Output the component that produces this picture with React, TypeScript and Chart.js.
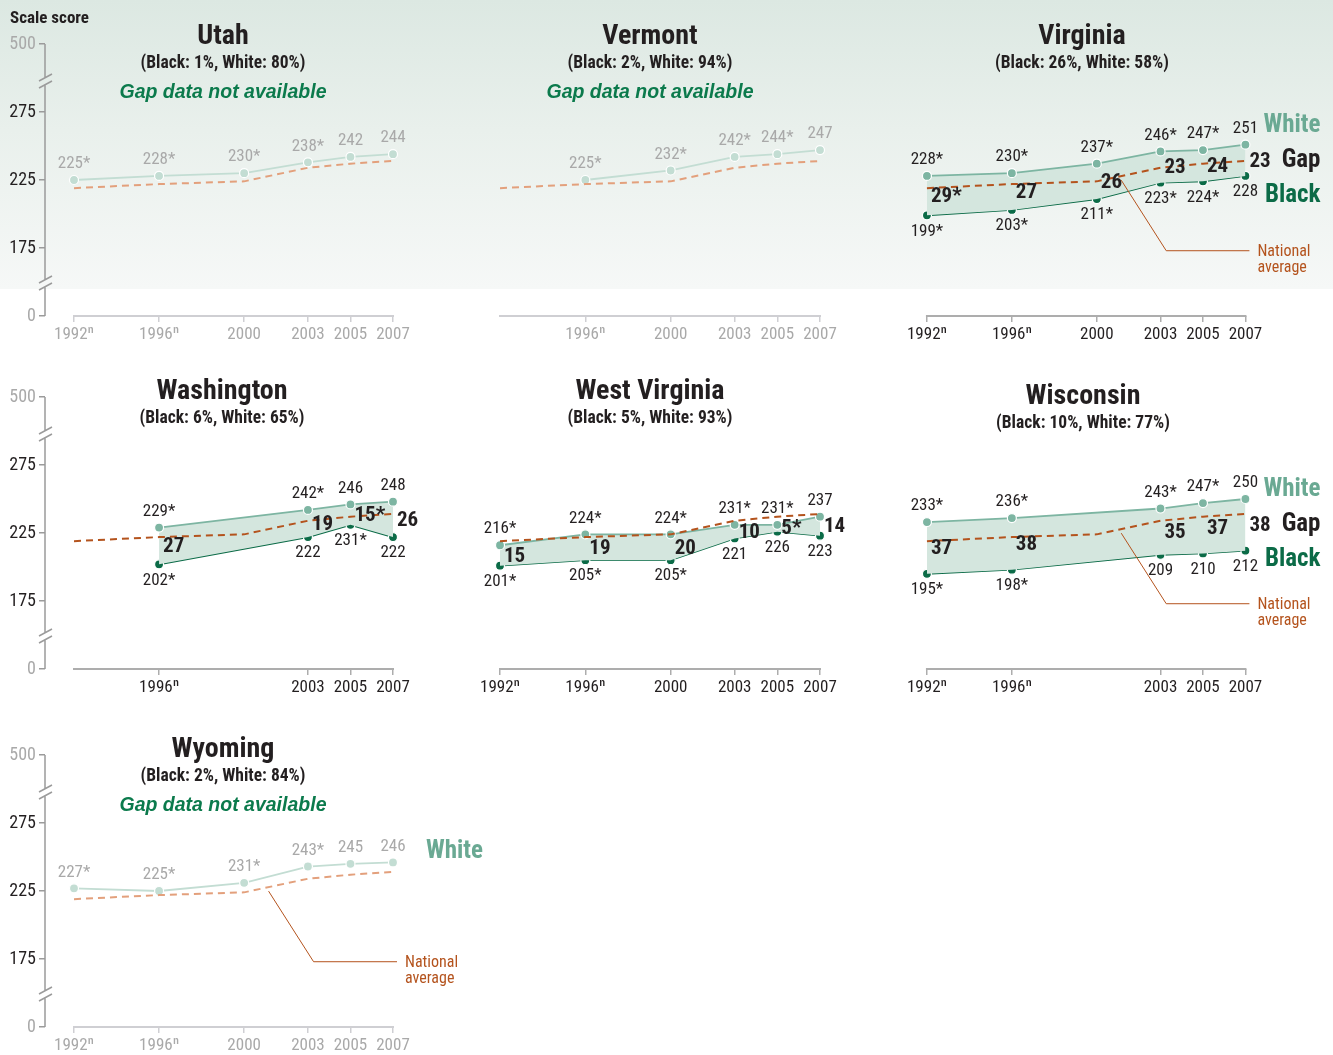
import React, { useEffect, useRef } from "react";
import { Chart, registerables } from "chart.js";

Chart.register(...registerables);

// ---------------- data ----------------
const ALL_YEARS = [1992, 1996, 2000, 2003, 2005, 2007];
const NATIONAL_AVG = [219, 222, 224, 234, 237, 239];

const UTAH_YEARS = [1992, 1996, 2000, 2003, 2005, 2007];
const UTAH_WHITE = [225, 228, 230, 238, 242, 244];
const UTAH_WHITE_LBL = ["225*", "228*", "230*", "238*", "242", "244"];

const VERMONT_YEARS = [1996, 2000, 2003, 2005, 2007];
const VERMONT_WHITE = [225, 232, 242, 244, 247];
const VERMONT_WHITE_LBL = ["225*", "232*", "242*", "244*", "247"];

const VIRGINIA_YEARS = [1992, 1996, 2000, 2003, 2005, 2007];
const VIRGINIA_WHITE = [228, 230, 237, 246, 247, 251];
const VIRGINIA_WHITE_LBL = ["228*", "230*", "237*", "246*", "247*", "251"];
const VIRGINIA_BLACK = [199, 203, 211, 223, 224, 228];
const VIRGINIA_BLACK_LBL = ["199*", "203*", "211*", "223*", "224*", "228"];
const VIRGINIA_GAP_LBL = ["29*", "27", "26", "23", "24", "23"];

const WASHINGTON_YEARS = [1996, 2003, 2005, 2007];
const WASHINGTON_WHITE = [229, 242, 246, 248];
const WASHINGTON_WHITE_LBL = ["229*", "242*", "246", "248"];
const WASHINGTON_BLACK = [202, 222, 231, 222];
const WASHINGTON_BLACK_LBL = ["202*", "222", "231*", "222"];
const WASHINGTON_GAP_LBL = ["27", "19", "15*", "26"];

const WESTVA_YEARS = [1992, 1996, 2000, 2003, 2005, 2007];
const WESTVA_WHITE = [216, 224, 224, 231, 231, 237];
const WESTVA_WHITE_LBL = ["216*", "224*", "224*", "231*", "231*", "237"];
const WESTVA_BLACK = [201, 205, 205, 221, 226, 223];
const WESTVA_BLACK_LBL = ["201*", "205*", "205*", "221", "226", "223"];
const WESTVA_GAP_LBL = ["15", "19", "20", "10", "5*", "14"];

const WISCONSIN_YEARS = [1992, 1996, 2003, 2005, 2007];
const WISCONSIN_WHITE = [233, 236, 243, 247, 250];
const WISCONSIN_WHITE_LBL = ["233*", "236*", "243*", "247*", "250"];
const WISCONSIN_BLACK = [195, 198, 209, 210, 212];
const WISCONSIN_BLACK_LBL = ["195*", "198*", "209", "210", "212"];
const WISCONSIN_GAP_LBL = ["37", "38", "35", "37", "38"];

const WYOMING_YEARS = [1992, 1996, 2000, 2003, 2005, 2007];
const WYOMING_WHITE = [227, 225, 231, 243, 245, 246];
const WYOMING_WHITE_LBL = ["227*", "225*", "231*", "243*", "245", "246"];

// broken y axis: 0 and 500 are drawn at stand-in positions 125 and 325
const Y_TICK_POS = [125, 175, 225, 275, 325];
const Y_TICK_LBL = ["0", "175", "225", "275", "500"];
const YEAR_LBL: Record<number, string> = {
  1992: "1992\u207F",
  1996: "1996\u207F",
  2000: "2000",
  2003: "2003",
  2005: "2005",
  2007: "2007",
};

// ---------------- fonts ----------------
function measure(font: string): number {
  const c = document.createElement("canvas").getContext("2d")!;
  c.font = "10px monospace";
  c.font = font;
  if (!c.font.includes("72px")) return NaN;
  return c.measureText("abcdefghijklmnopqrstuvwxyz ABCDEFGHIJKLMNOPQRSTUVWXYZ 0123456789").width;
}
function hasFont(f: string): boolean {
  return ["monospace", "serif"].some(
    (b) => Math.abs(measure(`72px "${f}", ${b}`) - measure(`72px ${b}`)) > 1
  );
}
let CF = '"Liberation Sans"';
let CS = "normal";
if (hasFont("Liberation Sans Narrow")) CF = '"Liberation Sans Narrow"';
else if (hasFont("Roboto Condensed")) CF = '"Roboto Condensed"';
else if (measure('condensed 72px "Noto Sans"') < measure('72px "Noto Sans"') - 20) {
  CF = '"Noto Sans"';
  CS = "condensed";
} else if (hasFont("DejaVu Sans Condensed")) CF = '"DejaVu Sans Condensed"';
const fnt = (weight: string, size: number) => `${CS} ${weight} ${size}px ${CF}`;

// ---------------- styles / layout ----------------
const C = {
  text: "#231f20",
  grey: "#a9a9a9",
  white: "#7db5a2",
  whiteDim: "#c3ddd3",
  black: "#0b6b47",
  gap: "#d4e6de",
  nat: "#b4531d",
  natDim: "#e3a07c",
  yAxis: "#9b9b9b",
  xAxis: "#adadad",
  xAxisDim: "#cfcfd3",
  green: "#0b7a4c",
  whiteLegend: "#6aa993",
};
const COLS = [
  { left: 0, width: 500, padL: 0, padR: 75, yAxis: true, p1992: 74, p2007: 393 },
  { left: 440, width: 430, padL: 20, padR: 15, yAxis: false, p1992: 500, p2007: 820 },
  { left: 870, width: 463, padL: 20, padR: 5, yAxis: false, p1992: 927, p2007: 1246 },
];
const ROW_TOP = [0, 353, 711];
const CANVAS_H = 343;
const AREA_TOP = 44;
const AREA_BOTTOM = 316;
const Y_AXIS_W = 45;

type StateCfg = {
  name: string;
  sub: string;
  col: number;
  row: number;
  gapAvailable: boolean;
  years: number[];
  white: number[];
  whiteLbl: string[];
  black?: number[];
  blackLbl?: string[];
  gapLbl?: string[];
  xTicks: number[];
  legend: "full" | "white" | "none";
  callout: boolean;
  cx: number;
  titleY: number;
};

const STATES: StateCfg[] = [
  { name: "Utah", sub: "(Black: 1%, White: 80%)", col: 0, row: 0, gapAvailable: false, years: UTAH_YEARS, white: UTAH_WHITE, whiteLbl: UTAH_WHITE_LBL, xTicks: ALL_YEARS, legend: "none", callout: false, cx: 223, titleY: 35 },
  { name: "Vermont", sub: "(Black: 2%, White: 94%)", col: 1, row: 0, gapAvailable: false, years: VERMONT_YEARS, white: VERMONT_WHITE, whiteLbl: VERMONT_WHITE_LBL, xTicks: [1996, 2000, 2003, 2005, 2007], legend: "none", callout: false, cx: 650, titleY: 35 },
  { name: "Virginia", sub: "(Black: 26%, White: 58%)", col: 2, row: 0, gapAvailable: true, years: VIRGINIA_YEARS, white: VIRGINIA_WHITE, whiteLbl: VIRGINIA_WHITE_LBL, black: VIRGINIA_BLACK, blackLbl: VIRGINIA_BLACK_LBL, gapLbl: VIRGINIA_GAP_LBL, xTicks: ALL_YEARS, legend: "full", callout: true, cx: 1082, titleY: 35 },
  { name: "Washington", sub: "(Black: 6%, White: 65%)", col: 0, row: 1, gapAvailable: true, years: WASHINGTON_YEARS, white: WASHINGTON_WHITE, whiteLbl: WASHINGTON_WHITE_LBL, black: WASHINGTON_BLACK, blackLbl: WASHINGTON_BLACK_LBL, gapLbl: WASHINGTON_GAP_LBL, xTicks: [1996, 2003, 2005, 2007], legend: "none", callout: false, cx: 222, titleY: 390 },
  { name: "West Virginia", sub: "(Black: 5%, White: 93%)", col: 1, row: 1, gapAvailable: true, years: WESTVA_YEARS, white: WESTVA_WHITE, whiteLbl: WESTVA_WHITE_LBL, black: WESTVA_BLACK, blackLbl: WESTVA_BLACK_LBL, gapLbl: WESTVA_GAP_LBL, xTicks: ALL_YEARS, legend: "none", callout: false, cx: 650, titleY: 390 },
  { name: "Wisconsin", sub: "(Black: 10%, White: 77%)", col: 2, row: 1, gapAvailable: true, years: WISCONSIN_YEARS, white: WISCONSIN_WHITE, whiteLbl: WISCONSIN_WHITE_LBL, black: WISCONSIN_BLACK, blackLbl: WISCONSIN_BLACK_LBL, gapLbl: WISCONSIN_GAP_LBL, xTicks: [1992, 1996, 2003, 2005, 2007], legend: "full", callout: true, cx: 1083, titleY: 395 },
  { name: "Wyoming", sub: "(Black: 2%, White: 84%)", col: 0, row: 2, gapAvailable: false, years: WYOMING_YEARS, white: WYOMING_WHITE, whiteLbl: WYOMING_WHITE_LBL, xTicks: ALL_YEARS, legend: "white", callout: true, cx: 223, titleY: 748 },
];

function natAt(year: number): number {
  for (let i = 0; i < ALL_YEARS.length - 1; i++) {
    const a = ALL_YEARS[i], b = ALL_YEARS[i + 1];
    if (year >= a && year <= b) return NATIONAL_AVG[i] + ((year - a) / (b - a)) * (NATIONAL_AVG[i + 1] - NATIONAL_AVG[i]);
  }
  return NATIONAL_AVG[NATIONAL_AVG.length - 1];
}

function txt(ctx: CanvasRenderingContext2D, s: string, x: number, y: number, font: string, color: string, align: CanvasTextAlign = "center") {
  ctx.font = font;
  ctx.fillStyle = color;
  ctx.textAlign = align;
  ctx.textBaseline = "middle";
  ctx.fillText(s, x, y);
}

function makeConfig(s: StateCfg): any {
  const col = COLS[s.col];
  const areaL = (col.yAxis ? Y_AXIS_W : 0) + col.padL;
  const areaR = col.width - col.padR;
  const p92 = col.p1992 - col.left;
  const p07 = col.p2007 - col.left;
  const ppy = (p07 - p92) / 15;
  const xMin = 1992 - (p92 - areaL) / ppy;
  const xMax = 2007 + (areaR - p07) / ppy;
  const active = s.gapAvailable;

  const datasets: any[] = [
    {
      label: "National average",
      data: ALL_YEARS.map((x, i) => ({ x, y: NATIONAL_AVG[i] })),
      borderColor: active ? C.nat : C.natDim,
      borderWidth: 2,
      borderDash: [7, 5],
      pointRadius: 0,
      fill: false,
    },
    {
      label: "White",
      data: s.years.map((x, i) => ({ x, y: s.white[i] })),
      borderColor: active ? C.white : C.whiteDim,
      borderWidth: 1.8,
      pointRadius: 4.5,
      pointBackgroundColor: active ? C.white : C.whiteDim,
      pointBorderColor: "#ffffff",
      pointBorderWidth: 1.2,
      fill: s.black ? "+1" : false,
      backgroundColor: C.gap,
    },
  ];
  if (s.black) {
    datasets.push({
      label: "Black",
      data: s.years.map((x, i) => ({ x, y: s.black![i] })),
      borderColor: C.black,
      borderWidth: 1.8,
      pointRadius: 4.5,
      pointBackgroundColor: C.black,
      pointBorderColor: "#ffffff",
      pointBorderWidth: 1.2,
      fill: false,
    });
  }

  const decor = {
    id: "decor",
    beforeDatasetsDraw(chart: any) {
      const { ctx, chartArea: a, scales } = chart;
      const x = scales.x, y = scales.y;
      ctx.save();
      ctx.strokeStyle = active ? C.xAxis : C.xAxisDim;
      ctx.lineWidth = 2;
      ctx.beginPath();
      ctx.moveTo(x.getPixelForValue(1992) - 1, a.bottom);
      ctx.lineTo(x.getPixelForValue(2007) + 1, a.bottom);
      ctx.stroke();
      if (col.yAxis) {
        const X = a.left;
        const top = y.getPixelForValue(325), bot = y.getPixelForValue(125);
        const b1 = top + 37, b2 = bot - 33;
        ctx.strokeStyle = C.yAxis;
        ctx.lineWidth = 1.5;
        ctx.beginPath();
        ctx.moveTo(X, top); ctx.lineTo(X, b1 - 3.2);
        ctx.moveTo(X, b1 + 3.8); ctx.lineTo(X, b2 - 3.2);
        ctx.moveTo(X, b2 + 3.8); ctx.lineTo(X, bot);
        for (const b of [b1, b2]) {
          ctx.moveTo(X - 6, b); ctx.lineTo(X + 7, b - 7);
          ctx.moveTo(X - 6, b + 7); ctx.lineTo(X + 7, b);
        }
        ctx.stroke();
      }
      ctx.restore();
    },
    afterDatasetsDraw(chart: any) {
      const { ctx, scales } = chart;
      const x = scales.x, y = scales.y;
      const px = (v: number) => x.getPixelForValue(v);
      const py = (v: number) => y.getPixelForValue(v);
      ctx.save();
      const fV = fnt("normal", 17);
      const fG = fnt("bold", 21);
      const fL = fnt("bold", 25);
      const fN = fnt("normal", 16);
      s.years.forEach((yr, i) => {
        txt(ctx, s.whiteLbl[i], px(yr), py(s.white[i]) - 16, fV, active ? C.text : C.grey);
        if (s.black && s.blackLbl && s.gapLbl) {
          txt(ctx, s.blackLbl[i], px(yr), py(s.black[i]) + 16, fV, C.text);
          txt(ctx, s.gapLbl[i], px(yr) + 4, (py(s.white[i]) + py(s.black[i])) / 2 + 1, fG, C.text, "left");
        }
      });
      const n = s.years.length - 1;
      if (s.legend === "full" && s.black) {
        const xr = px(2007) + 75;
        const mid = (py(s.white[n]) + py(s.black[n])) / 2;
        txt(ctx, "White", xr, mid - 35, fL, C.whiteLegend, "right");
        txt(ctx, "Gap", xr, mid, fL, C.text, "right");
        txt(ctx, "Black", xr, mid + 35, fL, C.black, "right");
      } else if (s.legend === "white") {
        txt(ctx, "White", px(2007) + 33, py(s.white[n]) - 11, fL, C.whiteLegend, "left");
      }
      if (s.callout) {
        const ay = 2001.15;
        const sx = px(ay), sy = py(natAt(ay)) + 4;
        const cx = sx + 45, cy = py(173);
        const ex = px(2007) + 4;
        ctx.strokeStyle = C.nat;
        ctx.lineWidth = 1;
        ctx.beginPath();
        ctx.moveTo(sx, sy);
        ctx.lineTo(cx, cy);
        ctx.lineTo(ex, cy);
        ctx.stroke();
        txt(ctx, "National", ex + 8, cy + 1, fN, C.nat, "left");
        txt(ctx, "average", ex + 8, cy + 17, fN, C.nat, "left");
      }
      ctx.restore();
    },
  };

  return {
    type: "line",
    data: { datasets },
    plugins: [decor],
    options: {
      animation: false,
      responsive: false,
      maintainAspectRatio: false,
      events: [],
      layout: { padding: { top: AREA_TOP, left: col.padL, right: col.padR, bottom: 0 } },
      plugins: { legend: { display: false }, tooltip: { enabled: false }, title: { display: false } },
      elements: { line: { tension: 0 } },
      scales: {
        x: {
          type: "linear",
          min: xMin,
          max: xMax,
          afterBuildTicks: (sc: any) => {
            sc.ticks = s.xTicks.map((v) => ({ value: v }));
          },
          afterFit: (sc: any) => {
            sc.height = CANVAS_H - AREA_BOTTOM;
          },
          border: { display: false },
          grid: {
            display: true,
            drawOnChartArea: false,
            drawTicks: true,
            tickLength: 6,
            color: active ? C.xAxis : C.xAxisDim,
            lineWidth: 1.5,
          },
          ticks: {
            autoSkip: false,
            maxRotation: 0,
            padding: 3,
            color: active ? C.text : C.grey,
            font: { family: CF, size: 17, weight: CS === "normal" ? "normal" : "condensed" },
            callback: (v: number) => YEAR_LBL[Math.round(v)] ?? "",
          },
        },
        y: {
          type: "linear",
          display: col.yAxis,
          min: 125,
          max: 325,
          afterBuildTicks: (sc: any) => {
            sc.ticks = Y_TICK_POS.map((v) => ({ value: v }));
          },
          afterFit: (sc: any) => {
            sc.width = col.yAxis ? Y_AXIS_W : 0;
          },
          border: { display: false },
          grid: {
            display: true,
            drawOnChartArea: false,
            drawTicks: true,
            tickLength: 6,
            color: C.yAxis,
            lineWidth: 1.5,
          },
          ticks: {
            padding: 3,
            color: (c: any) => (c.tick && (c.tick.value === 125 || c.tick.value === 325) ? C.grey : C.text),
            font: { family: CF, size: 18, weight: CS === "normal" ? "normal" : "condensed" },
            callback: (v: number) => {
              const i = Y_TICK_POS.indexOf(Math.round(v));
              return i >= 0 ? Y_TICK_LBL[i] : "";
            },
          },
        },
      },
    },
  };
}

function Panel({ s }: { s: StateCfg }) {
  const ref = useRef<HTMLCanvasElement>(null);
  useEffect(() => {
    const chart = new Chart(ref.current!, makeConfig(s));
    return () => chart.destroy();
  }, [s]);
  const col = COLS[s.col];
  return (
    <canvas
      ref={ref}
      width={col.width}
      height={CANVAS_H}
      style={{ position: "absolute", left: col.left, top: ROW_TOP[s.row], width: col.width, height: CANVAS_H }}
    />
  );
}

function Titles({ s }: { s: StateCfg }) {
  const base: React.CSSProperties = {
    position: "absolute",
    left: s.cx - 200,
    width: 400,
    textAlign: "center",
    fontFamily: CF,
    fontStretch: CS === "normal" ? "normal" : "condensed",
    color: C.text,
    whiteSpace: "nowrap",
  };
  return (
    <>
      <div style={{ ...base, top: s.titleY - 16, height: 32, lineHeight: "32px", fontSize: 28, fontWeight: 700 }}>{s.name}</div>
      <div style={{ ...base, top: s.titleY + 27 - 10, height: 20, lineHeight: "20px", fontSize: 17.5, fontWeight: 700 }}>{s.sub}</div>
      {!s.gapAvailable && (
        <div
          style={{
            ...base,
            top: s.titleY + 56 - 12,
            height: 24,
            lineHeight: "24px",
            fontSize: 19.5,
            fontWeight: 700,
            fontStyle: "italic",
            fontFamily: '"Liberation Sans", Arial, sans-serif',
            fontStretch: "normal",
            color: C.green,
          }}
        >
          Gap data not available
        </div>
      )}
    </>
  );
}

export default function App() {
  useEffect(() => {
    document.body.style.margin = "0";
    document.body.style.overflow = "hidden";
  }, []);
  return (
    <div style={{ position: "absolute", left: 0, top: 0, width: 1333, height: 1055, overflow: "hidden", background: "#ffffff" }}>
      <div
        style={{
          position: "absolute",
          left: 0,
          top: 0,
          width: 1333,
          height: 289,
          background: "linear-gradient(to bottom, #dce8e2 0%, #e9f0ec 45%, #f6f8f7 100%)",
        }}
      />
      {STATES.map((s) => (
        <Panel key={s.name} s={s} />
      ))}
      {STATES.map((s) => (
        <Titles key={s.name + "_t"} s={s} />
      ))}
      <div
        style={{
          position: "absolute",
          left: 10,
          top: 7,
          height: 20,
          lineHeight: "20px",
          fontFamily: CF,
          fontStretch: CS === "normal" ? "normal" : "condensed",
          fontWeight: 700,
          fontSize: 17,
          color: C.text,
          whiteSpace: "nowrap",
        }}
      >
        Scale score
      </div>
    </div>
  );
}
